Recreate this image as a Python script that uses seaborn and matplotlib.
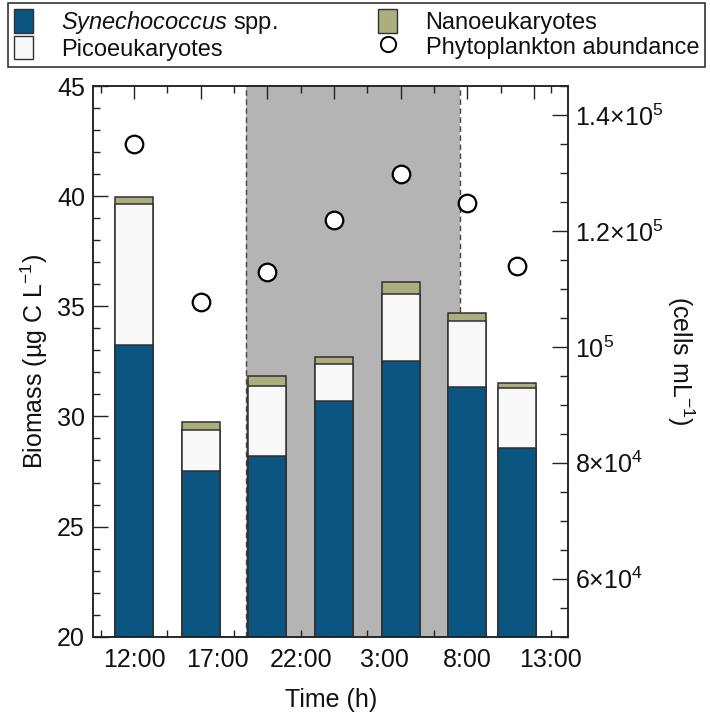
import numpy as np
import pandas as pd
import matplotlib
matplotlib.use("Agg")
import matplotlib.pyplot as plt
import seaborn as sns
from matplotlib.patches import Patch
from matplotlib.lines import Line2D
from matplotlib.ticker import MultipleLocator, FixedLocator, FixedFormatter

# Sampling times (hours after 12:00 on the first day)
sample_hours = [0, 4, 8, 12, 16, 20, 23]
# Carbon biomass per group (ug C L-1)
synechococcus = [33.25, 27.5, 28.2, 30.7, 32.5, 31.35, 28.55]
picoeukaryotes = [6.4, 1.9, 3.2, 1.7, 3.05, 3.0, 2.75]
nanoeukaryotes = [0.3, 0.35, 0.45, 0.3, 0.55, 0.35, 0.2]
# Total phytoplankton abundance (cells mL-1)
abundance = [1.35e5, 1.078e5, 1.129e5, 1.219e5, 1.299e5, 1.249e5, 1.139e5]
# Time-of-day labels along the x axis
label_hours = [0, 5, 10, 15, 20, 25]
time_labels = ["12:00", "17:00", "22:00", "3:00", "8:00", "13:00"]
# Dark period (hours after 12:00)
night_start, night_end = 6.7, 19.55

sns.set_style("ticks")
plt.rcParams["font.family"] = ["Liberation Sans", "DejaVu Sans"]
plt.rcParams["mathtext.fontset"] = "custom"
plt.rcParams["mathtext.rm"] = "Liberation Sans"
plt.rcParams["mathtext.it"] = "Liberation Sans:italic"
plt.rcParams["mathtext.bf"] = "Liberation Sans:bold"
for key in ("text.color", "axes.labelcolor", "xtick.labelcolor", "ytick.labelcolor"):
    plt.rcParams[key] = "#111111"

syn_c = "#0b5680"
pico_c = "#f8f8f8"
nano_c = "#acae7e"
edge_c = "#303030"
shade_c = "#b4b4b4"
axis_c = "#222222"

df = pd.DataFrame({
    "hour": sample_hours,
    "syn": synechococcus,
    "pico_top": np.add(synechococcus, picoeukaryotes),
    "total": np.add(np.add(synechococcus, picoeukaryotes), nanoeukaryotes),
})

fig = plt.figure(figsize=(7.10, 7.17), dpi=100)
ax = fig.add_axes([93.3 / 710, 1 - 636.7 / 717, (568 - 93.3) / 710, (636.7 - 86) / 717])

# night shading
ax.axvspan(night_start, night_end, color=shade_c, lw=0, zorder=0)
for xv in (night_start, night_end):
    ax.axvline(xv, color="#444444", lw=1.0, ls=(0, (4, 2.5)), zorder=0.6)

# stacked bars: draw cumulative totals from the top layer down
bar_width = 2.28 / 3.0
for col, colr in [("total", nano_c), ("pico_top", pico_c), ("syn", syn_c)]:
    sns.barplot(data=df, x="hour", y=col, native_scale=True, width=bar_width,
                color=colr, saturation=1, edgecolor=edge_c, linewidth=1.1,
                errorbar=None, ax=ax, zorder=2)

ax.set_xlim(-2.45, 26.05)
ax.set_ylim(20, 45)
ax.yaxis.set_major_locator(MultipleLocator(5))
ax.yaxis.set_minor_locator(MultipleLocator(1))
ax.xaxis.set_major_locator(FixedLocator(list(range(0, 25, 4))))
ax.xaxis.set_minor_locator(FixedLocator([-2, 2, 6, 10, 14, 18, 22, 25]))
ax.tick_params(axis="x", which="both", direction="in", top=True, bottom=True,
               labelbottom=False, width=1.0, color=axis_c)
ax.tick_params(axis="x", which="major", length=9)
ax.tick_params(axis="x", which="minor", length=5)
ax.tick_params(axis="y", which="both", direction="in", left=True, right=False,
               width=1.0, color=axis_c, labelsize=18, pad=6)
ax.tick_params(axis="y", which="major", length=10.5)
ax.tick_params(axis="y", which="minor", length=5)
ax.set_xlabel("")
ax.set_ylabel(r"Biomass (µg C L$^{-1}$)", fontsize=18, labelpad=5)

# time-of-day labels
sec = ax.secondary_xaxis("bottom")
sec.set_xticks(label_hours)
sec.set_xticklabels(time_labels)
sec.tick_params(length=0, labelsize=18, pad=8)
sec.spines["bottom"].set_visible(False)
sec.set_xlabel("Time (h)", fontsize=18, labelpad=12)

for sp in ax.spines.values():
    sp.set_visible(True)
    sp.set_linewidth(1.1)
    sp.set_color(axis_c)

# abundance on the right axis
ax2 = ax.twinx()
sns.scatterplot(x=sample_hours, y=abundance, ax=ax2, s=160, marker="o",
                facecolor="white", edgecolor="black", linewidth=1.6, zorder=5)
ax2.set_ylim(5e4, 1.45e5)
ax2.yaxis.set_major_locator(FixedLocator([6e4, 8e4, 1e5, 1.2e5, 1.4e5]))
ax2.yaxis.set_major_formatter(FixedFormatter([
    r"$6{\times}10^{4}$", r"$8{\times}10^{4}$", r"$10^{5}$",
    r"$1.2{\times}10^{5}$", r"$1.4{\times}10^{5}$"]))
ax2.yaxis.set_minor_locator(MultipleLocator(5e3))
ax2.tick_params(axis="y", which="both", direction="in", width=1.0,
                color=axis_c, labelsize=18, pad=5)
ax2.tick_params(axis="y", which="major", length=11.5)
ax2.tick_params(axis="y", which="minor", length=5.5)
ax2.set_ylabel(r"(cells mL$^{-1}$)", fontsize=18, rotation=270, labelpad=24)
for sp in ax2.spines.values():
    sp.set_linewidth(1.1)
    sp.set_color(axis_c)

handles = [
    Patch(facecolor=syn_c, edgecolor=edge_c, linewidth=1.0),
    Patch(facecolor=pico_c, edgecolor=edge_c, linewidth=1.0),
    Patch(facecolor=nano_c, edgecolor=edge_c, linewidth=1.0),
    Line2D([], [], ls="", marker="o", markersize=11, markerfacecolor="white",
           markeredgecolor="black", markeredgewidth=1.4),
]
labels = [r"$\it{Synechococcus}$ spp.", "Picoeukaryotes", "Nanoeukaryotes",
          "Phytoplankton abundance"]
leg = fig.legend(handles, labels, ncol=2, loc="upper left",
                 bbox_to_anchor=(8 / 710, 1 - 3 / 717, 697 / 710, 0), mode="expand",
                 fontsize=17, frameon=True, fancybox=False, framealpha=1,
                 edgecolor=axis_c, handlelength=0.8, handleheight=1.15,
                 handletextpad=1.2, labelspacing=0.0, borderpad=0.25,
                 borderaxespad=0)
leg.get_frame().set_linewidth(1.1)

fig.savefig("out.png", dpi=100)
